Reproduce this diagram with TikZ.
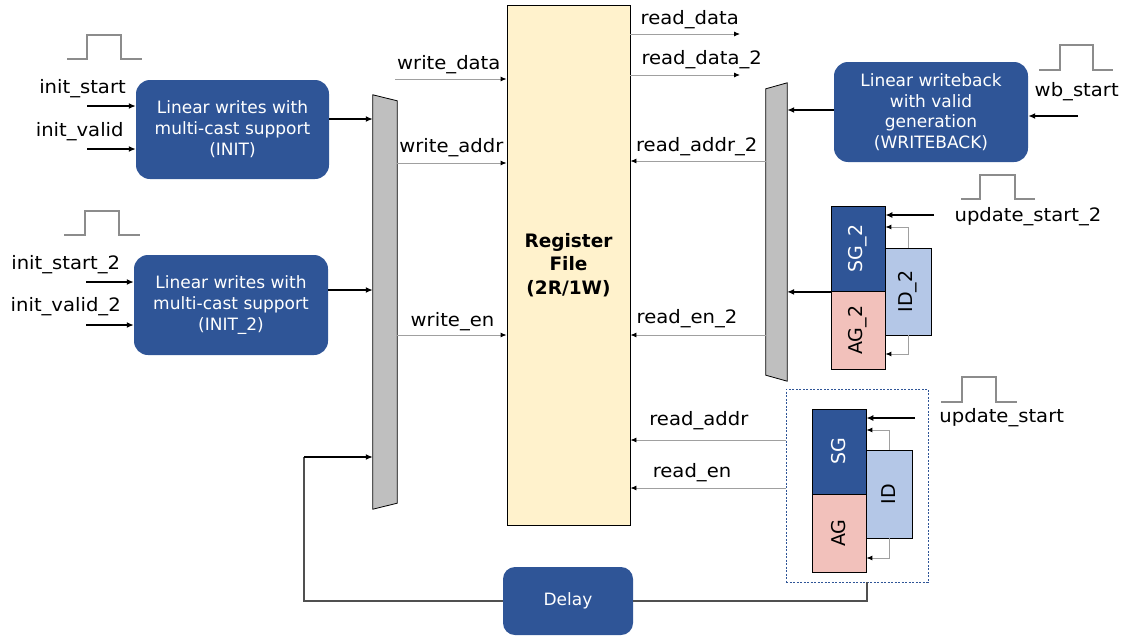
\documentclass[tikz,border=0pt]{standalone}
\usepackage{fontspec}
\setmainfont{DejaVu Sans}
\newfontfamily\lblfont[FakeStretch=1.06]{DejaVu Sans}
\usetikzlibrary{arrows.meta,calc}
\definecolor{dblue}{HTML}{2F5597}
\definecolor{lblue}{HTML}{B4C7E7}
\definecolor{pinkag}{HTML}{F2C1BB}
\definecolor{regy}{HTML}{FFF2CC}
\definecolor{muxg}{HTML}{BFBFBF}
\definecolor{pulseg}{HTML}{8C8C8C}
\definecolor{sigg}{HTML}{A0A0A0}
\definecolor{fbg}{HTML}{505050}
\begin{document}
\begin{tikzpicture}[x=1pt,y=-1pt,
 blk/.style={rounded corners=14pt, fill=dblue, draw=none, text=white, align=center, inner sep=0, font=\fontsize{17}{21}\selectfont},
 lbl/.style={anchor=base, inner sep=0, font=\lblfont\fontsize{18.5}{21}\selectfont},
 bus/.style={line width=1.5pt, -{Latex[length=7pt,width=6pt]}},
 sig/.style={line width=0.9pt, draw=sigg, -{Latex[length=6pt,width=5pt,color=black]}},
 pulse/.style={line width=1.4pt, draw=pulseg},
 cell/.style={draw=black, line width=0.8pt, inner sep=0},
 celltxt/.style={rotate=90, font=\fontsize{19}{21}\selectfont},
 fbline/.style={line width=1.3pt, draw=fbg},
]
\useasboundingbox (0,0) rectangle (1124,637);

% level coordinates
\coordinate (yI1) at (0,119);
\coordinate (yI2) at (0,290);
\coordinate (yWD) at (0,79);
\coordinate (yWA) at (0,163);
\coordinate (yWE) at (0,335);
\coordinate (yRD) at (0,34);
\coordinate (yRD2) at (0,75);
\coordinate (yRA2) at (0,161);
\coordinate (yRE2) at (0,335);
\coordinate (yWB) at (0,110);
\coordinate (yF1) at (0,227);
\coordinate (yF2) at (0,354);
\coordinate (yF3) at (0,430);
\coordinate (yF4) at (0,558);
\coordinate (yRA) at (0,440);
\coordinate (yRE) at (0,488);

% blocks
\node[blk, minimum width=193pt, minimum height=99pt] (init) at (232.5,129.5) {Linear writes with\\multi-cast support\\(INIT)};
\node[blk, minimum width=194pt, minimum height=100pt] (init2) at (231,305) {Linear writes with\\multi-cast support\\(INIT\_2)};
\node[blk, minimum width=194pt, minimum height=100pt, font=\fontsize{17}{20.5}\selectfont] (wb) at (931,112) {Linear writeback\\with valid\\generation\\(WRITEBACK)};
\node[blk, rounded corners=12pt, minimum width=130pt, minimum height=68pt] (delay) at (568,601) {Delay};
\node[draw=black, line width=0.9pt, fill=regy, minimum width=123pt, minimum height=520pt, inner sep=0, align=center, font=\fontsize{18.5}{23.5}\selectfont\bfseries] (reg) at (568.5,265) {Register\\File\\(2R/1W)};

% muxes
\node[inner sep=0, minimum width=24pt, minimum height=414pt] (mux1) at (385,302) {};
\draw[fill=muxg, line width=0.8pt] (mux1.north west) -- ([yshift=-6pt]mux1.north east) -- ([yshift=6pt]mux1.south east) -- (mux1.south west) -- cycle;
\node[inner sep=0, minimum width=21pt, minimum height=298pt] (mux2) at (776.5,232) {};
\draw[fill=muxg, line width=0.8pt] ([yshift=-6pt]mux2.north west) -- (mux2.north east) -- (mux2.south east) -- ([yshift=6pt]mux2.south west) -- cycle;

% SG/AG/ID 2
\node[cell, fill=dblue, minimum width=54pt, minimum height=85.5pt, label={[celltxt, text=white]center:SG\_2}] (sg2) at (858,248.75) {};
\node[cell, fill=pinkag, minimum width=54pt, minimum height=77.5pt, label={[celltxt]center:AG\_2}] (ag2) at (858,330.25) {};
\node[cell, fill=lblue, minimum width=46pt, minimum height=87pt, label={[celltxt]center:ID\_2}] (id2) at (908,291.5) {};

% dashed group
\node[draw=dblue, dashed, dash pattern=on 2pt off 1.5pt, line width=0.7pt, minimum width=142pt, minimum height=193pt, inner sep=0] (dbox) at (857,485.5) {};
\node[cell, fill=dblue, minimum width=54pt, minimum height=85pt, label={[celltxt, text=white]center:SG}] (sg) at (839,451.5) {};
\node[cell, fill=pinkag, minimum width=54pt, minimum height=78pt, label={[celltxt]center:AG}] (ag) at (839,533) {};
\node[cell, fill=lblue, minimum width=46pt, minimum height=88pt, label={[celltxt]center:ID}] (id) at (889,494) {};

% pulses
\draw[pulse] (67,59) -- (87,59) -- (87,35) -- (121,35) -- (121,59) -- (142,59);
\draw[pulse] (64,235) -- (85,235) -- (85,211) -- (119,211) -- (119,235) -- (140,235);
\draw[pulse] (1039,70) -- (1060,70) -- (1060,45) -- (1093,45) -- (1093,70) -- (1113,70);
\draw[pulse] (961,199) -- (980,199) -- (980,175) -- (1015,175) -- (1015,199) -- (1035,199);
\draw[pulse] (941,402) -- (962,402) -- (962,377) -- (996,377) -- (996,402) -- (1017,402);

% input signals
\coordinate (isS) at (87,106);
\coordinate (ivS) at (87,149);
\coordinate (is2S) at (86,282);
\coordinate (iv2S) at (86,325);
\draw[bus] (isS) -- (isS -| init.west);
\draw[bus] (ivS) -- (ivS -| init.west);
\draw[bus] (is2S) -- (is2S -| init2.west);
\draw[bus] (iv2S) -- (iv2S -| init2.west);
\draw[bus] (init.east |- yI1) -- (mux1.west |- yI1);
\draw[bus] (init2.east |- yI2) -- (mux1.west |- yI2);

% write side
\coordinate (wdS) at (395,79);
\draw[sig] (wdS) -- (reg.west |- yWD);
\draw[sig] (mux1.east |- yWA) -- (reg.west |- yWA);
\draw[sig] (mux1.east |- yWE) -- (reg.west |- yWE);

% read side
\coordinate (rdE) at (740,34);
\coordinate (rd2E) at (740,75);
\draw[sig] (reg.east |- yRD) -- (rdE);
\draw[sig] (reg.east |- yRD2) -- (rd2E);
\draw[sig] (mux2.west |- yRA2) -- (reg.east |- yRA2);
\draw[sig] (mux2.west |- yRE2) -- (reg.east |- yRE2);
\draw[sig] (dbox.west |- yRA) -- (reg.east |- yRA);
\draw[sig] (dbox.west |- yRE) -- (reg.east |- yRE);

% writeback
\draw[bus] (wb.west |- yWB) -- (mux2.east |- yWB);
\coordinate (wbS) at (1078,116);
\draw[bus] (wbS) -- (wbS -| wb.east);

% update 2
\coordinate (us2S) at (934,215);
\draw[bus, line width=1.3pt] (us2S) -- (us2S -| sg2.east);
\draw[sig] (id2.north) |- (sg2.east |- yF1);
\draw[sig] (id2.south) |- (ag2.east |- yF2);
\draw[bus, line width=1.3pt] (sg2.south west) -- (sg2.south west -| mux2.east);

% update
\coordinate (usS) at (915,418);
\draw[bus, line width=1.3pt] (usS) -- (usS -| sg.east);
\draw[sig] (id.north) |- (sg.east |- yF3);
\draw[sig] (id.south) |- (ag.east |- yF4);

% feedback through delay
\coordinate (dbS) at (867,582);
\draw[fbline] (dbS) |- (delay.east);
\coordinate (fbc) at (304,457);
\draw[fbline] (delay.west) -| (fbc);
\draw[bus, line width=1.3pt] (fbc) -- (fbc -| mux1.west);

% labels
\node[lbl] (l1) at (82.5,93) {init\_start};
\node[lbl] (l2) at (79.7,136) {init\_valid};
\node[lbl] (l3) at (65.7,269) {init\_start\_2};
\node[lbl] (l4) at (65.7,311.3) {init\_valid\_2};
\node[lbl] (l5) at (448.8,69) {write\_data};
\node[lbl] (l6) at (451.3,152.7) {write\_addr};
\node[lbl] (l7) at (452.5,326) {write\_en};
\node[lbl] (l8) at (689.7,24) {read\_data};
\node[lbl] (l9) at (701.7,64) {read\_data\_2};
\node[lbl] (l10) at (696.7,151.7) {read\_addr\_2};
\node[lbl] (l11) at (687,323.3) {read\_en\_2};
\node[lbl] (l12) at (698.8,425) {read\_addr};
\node[lbl] (l13) at (692,477.7) {read\_en};
\node[lbl] (l14) at (1076.7,96.7) {wb\_start};
\node[lbl] (l15) at (1028,221.7) {update\_start\_2};
\node[lbl] (l16) at (1001.7,422.3) {update\_start};
\end{tikzpicture}
\end{document}
